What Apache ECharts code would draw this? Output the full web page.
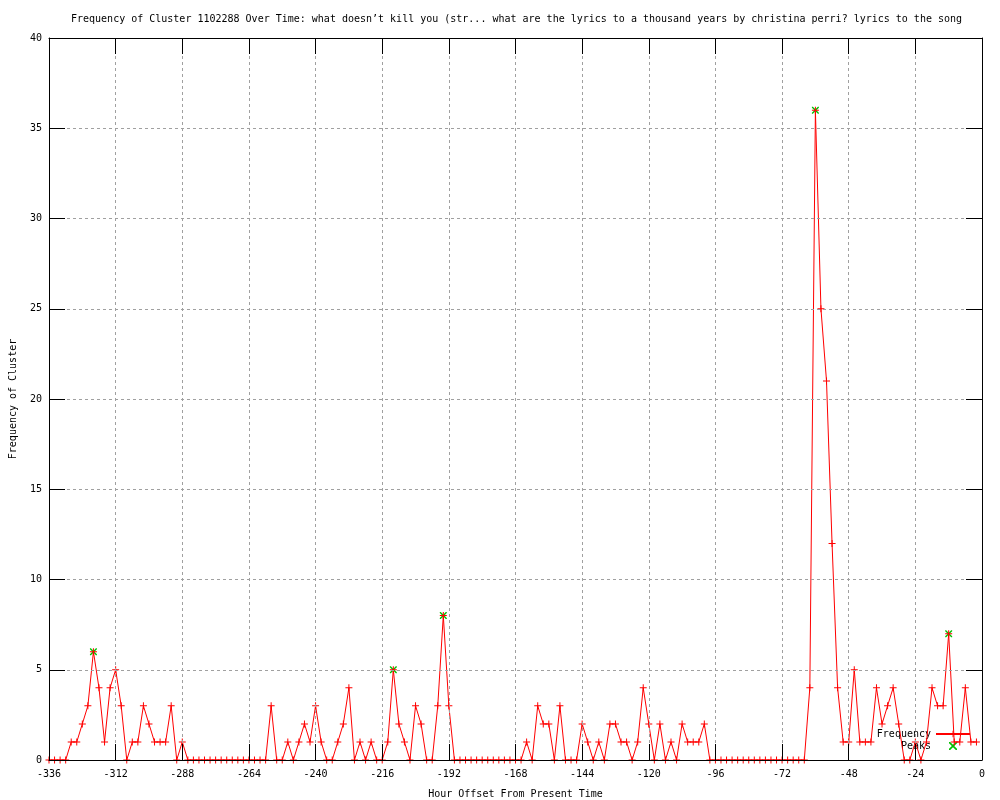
<!DOCTYPE html>
<html>
<head>
<meta charset="utf-8">
<script src="https://cdn.jsdelivr.net/npm/echarts@6/dist/echarts.min.js"></script>
<style>
html,body{margin:0;padding:0;background:#fff;}
#chart{width:1000px;height:800px;}
</style>
</head>
<body>
<div id="chart"></div>
<script>
var titleText = "Frequency of Cluster 1102288 Over Time: what doesn\u2019t kill you (str... what are the lyrics to a thousand years by christina perri? lyrics to the song";
var xAxisName = "Hour Offset From Present Time";
var yAxisName = "Frequency of Cluster";

var hours = [-336,-334,-332,-330,-328,-326,-324,-322,-320,-318,-316,-314,
-312,-310,-308,-306,-304,-302,-300,-298,-296,-294,-292,-290,
-288,-286,-284,-282,-280,-278,-276,-274,-272,-270,-268,-266,
-264,-262,-260,-258,-256,-254,-252,-250,-248,-246,-244,-242,
-240,-238,-236,-234,-232,-230,-228,-226,-224,-222,-220,-218,
-216,-214,-212,-210,-208,-206,-204,-202,-200,-198,-196,-194,
-192,-190,-188,-186,-184,-182,-180,-178,-176,-174,-172,-170,
-168,-166,-164,-162,-160,-158,-156,-154,-152,-150,-148,-146,
-144,-142,-140,-138,-136,-134,-132,-130,-128,-126,-124,-122,
-120,-118,-116,-114,-112,-110,-108,-106,-104,-102,-100,-98,
-96,-94,-92,-90,-88,-86,-84,-82,-80,-78,-76,-74,
-72,-70,-68,-66,-64,-62,-60,-58,-56,-54,-52,-50,
-48,-46,-44,-42,-40,-38,-36,-34,-32,-30,-28,-26,
-24,-22,-20,-18,-16,-14,-12,-10,-8,-6,-4,-2];

var frequency = [0,0,0,0,1,1,2,3,6,4,1,4,
5,3,0,1,1,3,2,1,1,1,3,0,
1,0,0,0,0,0,0,0,0,0,0,0,
0,0,0,0,3,0,0,1,0,1,2,1,
3,1,0,0,1,2,4,0,1,0,1,0,
0,1,5,2,1,0,3,2,0,0,3,8,
3,0,0,0,0,0,0,0,0,0,0,0,
0,0,1,0,3,2,2,0,3,0,0,0,
2,1,0,1,0,2,2,1,1,0,1,4,
2,0,2,0,1,0,2,1,1,1,2,0,
0,0,0,0,0,0,0,0,0,0,0,0,
0,0,0,0,0,4,36,25,21,12,4,1,
1,5,1,1,1,4,2,3,4,2,0,0,
1,0,1,4,3,3,7,1,1,4,1,1];

var peakHours = [-320,-212,-194,-60,-12];
var peakValues = [6,5,8,36,7];

var FONT = "DejaVu Sans Mono";
var plusPath = "path://M3,0 L4,0 L4,3 L7,3 L7,4 L4,4 L4,7 L3,7 L3,4 L0,4 L0,3 L3,3 Z";
var xPath = "path://M0,0 L1,0 L3.5,2.5 L6,0 L7,0 L7,1 L4.5,3.5 L7,6 L7,7 L6,7 L3.5,4.5 L1,7 L0,7 L0,6 L2.5,3.5 L0,1 Z";

var chart = echarts.init(document.getElementById('chart'), null, {renderer:'canvas'});
var freqData = hours.map(function(h,i){return [h, frequency[i]];});
var peakData = peakHours.map(function(h,i){return [h, peakValues[i]];});

var axisCommon = {
  axisLine:{show:true, onZero:false, lineStyle:{color:'#000', width:1}},
  axisTick:{show:true, inside:true, length:16, lineStyle:{color:'#000', width:1}}
};

chart.setOption({
  animation:false,
  backgroundColor:'#fff',
  title:{text:titleText, left:66, top:9,
    textStyle:{fontFamily:FONT, fontSize:10, fontWeight:'normal', color:'#000'}},
  grid:{left:49, right:18, top:38, bottom:40, containLabel:false, outerBoundsMode:'none'},
  legend:{orient:'vertical', right:24, top:724, align:'right', itemWidth:34, itemHeight:8, itemGap:2,
    textStyle:{fontFamily:FONT, fontSize:10, color:'#000'},
    data:['Frequency','Peaks']},
  xAxis:[
    Object.assign({type:'value', position:'bottom', min:-336, max:0, interval:24,
      name:xAxisName, nameLocation:'middle', nameGap:29,
      nameTextStyle:{fontFamily:FONT, fontSize:10, color:'#000'},
      axisLabel:{fontFamily:FONT, fontSize:10, color:'#000', margin:9},
      splitLine:{show:true, lineStyle:{color:'#a0a0a0', type:[3,3], width:1}}, z:5}, axisCommon),
    Object.assign({type:'value', position:'top', min:-336, max:0, interval:24,
      axisLabel:{show:false}, splitLine:{show:false}, z:5}, axisCommon)
  ],
  yAxis:[
    Object.assign({type:'value', position:'left', min:0, max:40, interval:5,
      name:yAxisName, nameLocation:'middle', nameGap:31, nameRotate:90,
      nameTextStyle:{fontFamily:FONT, fontSize:10, color:'#000'},
      axisLabel:{fontFamily:FONT, fontSize:10, color:'#000', margin:7},
      splitLine:{show:true, lineStyle:{color:'#a0a0a0', type:[3,3], width:1}}, z:5}, axisCommon),
    Object.assign({type:'value', position:'right', min:0, max:40, interval:5,
      axisLabel:{show:false}, splitLine:{show:false}, z:5}, axisCommon)
  ],
  series:[
    {name:'Frequency', type:'line', data:freqData, xAxisIndex:0, yAxisIndex:0,
      symbol:plusPath, symbolSize:7, showAllSymbol:true, clip:false,
      lineStyle:{color:'#ff0000', width:1},
      itemStyle:{color:'#ff0000', borderWidth:0}, z:4},
    {name:'Peaks', type:'scatter', data:peakData, xAxisIndex:0, yAxisIndex:0,
      symbol:xPath, symbolSize:7, symbolKeepAspect:true,
      itemStyle:{color:'#00c000', borderWidth:0, opacity:1}, z:3}
  ]
});
</script>
</body>
</html>
